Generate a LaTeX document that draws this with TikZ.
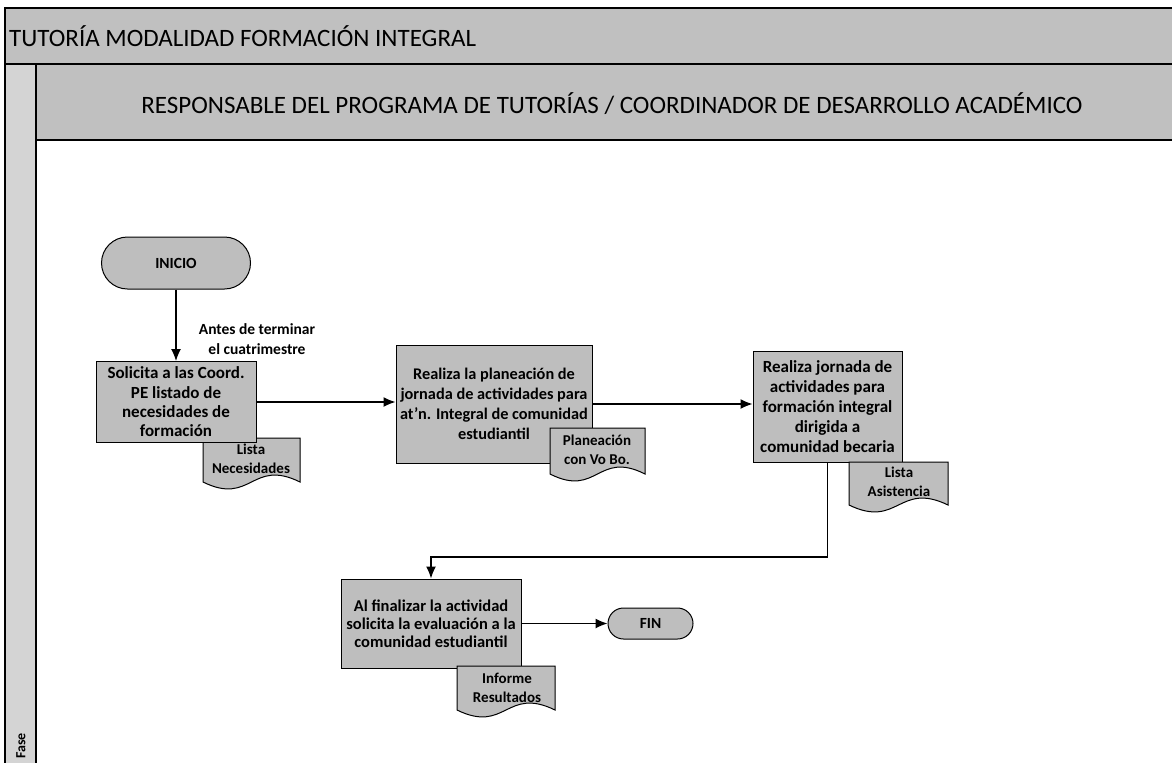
\documentclass[tikz,border=0pt]{standalone}
\usepackage{fontspec}
\setmainfont{Carlito}
\usetikzlibrary{arrows.meta,shapes.misc}
\definecolor{bandgray}{RGB}{192,192,192}
\definecolor{stripgray}{RGB}{212,212,212}
\definecolor{boxgray}{RGB}{190,190,190}
\tikzset{
 procbox/.style={draw=black, line width=1pt, fill=boxgray, align=center, font=\fontsize{16.5}{19.5}\selectfont\bfseries, inner sep=0pt},
 termbox/.style={rounded rectangle, draw=black, line width=1pt, fill=boxgray, font=\fontsize{15.5}{17}\selectfont\bfseries, inner sep=0pt},
 doctext/.style={align=center, font=\fontsize{15}{19}\selectfont\bfseries, inner sep=0pt},
 flow/.style={draw=black, line width=1.3pt, -{Latex[length=12pt,width=10pt]}},
 frameline/.style={draw=black, line width=1.2pt},
 docshape/.style={fill=boxgray, draw=black, line width=1pt},
 bandtext/.style={inner sep=0pt, font=\fontsize{25}{25}\selectfont},
}
\newcommand\flowdoc[5]{%
 \filldraw[docshape] (#1,#2) -- (#3,#2) -- (#3,#4) .. controls ({(#1+#3)/2},{#4-#5}) and ({(#1+#3)/2},{#4+#5}) .. (#1,#4) -- cycle;}
\begin{document}
\begin{tikzpicture}[x=1pt,y=-1pt]
\useasboundingbox (0,0) rectangle (1172,763);
\fill[white] (0,0) rectangle (1172,763);
% frame
\fill[stripgray] (5,64) rectangle (36,763);
\fill[bandgray] (5,8) rectangle (1172,64);
\fill[bandgray] (36,64) rectangle (1172,140);
\draw[frameline] (1172,8) -- (5,8) -- (5,763);
\draw[frameline] (5,64) -- (1172,64);
\draw[frameline] (36,64) -- (36,763);
\draw[frameline] (36,140) -- (1172,140);
\node[bandtext, anchor=west] (title) at (9,36) {TUTORÍA MODALIDAD FORMACIÓN INTEGRAL};
\node[bandtext] (lane) at (612,104) {RESPONSABLE DEL PROGRAMA DE TUTORÍAS / COORDINADOR DE DESARROLLO ACADÉMICO};
\node[rotate=90, inner sep=0pt, font=\fontsize{14}{14}\selectfont\bfseries] (fase) at (21,746) {Fase};
% nodes
\node[termbox, minimum width=149pt, minimum height=52pt] (ini) at (176,263) {INICIO};
\flowdoc{203}{438}{300}{482}{24}
\node[doctext] (d1) at (251,459) {Lista\\Necesidades};
\node[procbox, minimum width=160pt, minimum height=81pt, font=\fontsize{17}{19.3}\selectfont\bfseries] (b1) at (176,402) {Solicita a las Coord.\\PE listado de\\necesidades de\\formación};
\node[procbox, minimum width=196pt, minimum height=118pt, font=\fontsize{16.3}{20}\selectfont\bfseries] (b2) at (494,404) {Realiza la planeación de\\jornada de actividades para\\at'n. Integral de comunidad\\estudiantil};
\flowdoc{550}{428}{645}{474}{24}
\node[doctext] (d2) at (597,450) {Planeación\\con Vo Bo.};
\node[procbox, minimum width=149pt, minimum height=111pt, font=\fontsize{17}{20}\selectfont\bfseries] (b3) at (827.5,406.5) {Realiza jornada de\\actividades para\\formación integral\\dirigida a\\comunidad becaria};
\flowdoc{849}{462}{948}{505}{24}
\node[doctext] (d3) at (899,482) {Lista\\Asistencia};
\node[procbox, minimum width=180pt, minimum height=89pt, font=\fontsize{16.5}{18}\selectfont\bfseries] (b4) at (431,623.5) {Al finalizar la actividad\\solicita la evaluación a la\\comunidad estudiantil};
\flowdoc{457}{666}{555}{710}{24}
\node[doctext] (d4) at (507,688) {Informe\\Resultados};
\node[termbox, minimum width=85pt, minimum height=31pt] (fin) at (650.5,623.5) {FIN};
% edges
\draw[flow] (ini) -- (b1);
\node[align=center, inner sep=0pt, font=\fontsize{15.5}{20.5}\selectfont\bfseries] (lbl) at (257,339) {Antes de terminar\\el cuatrimestre};
\draw[flow] (b1.east) -- (b1.east -| b2.west);
\draw[flow] (b2.east) -- (b2.east -| b3.west);
\coordinate (bend) at (431,557);
\draw[flow] (b3.south) |- (bend) -- (b4.north);
\draw[flow] (b4.east) -- (fin.west);
\end{tikzpicture}
\end{document}
